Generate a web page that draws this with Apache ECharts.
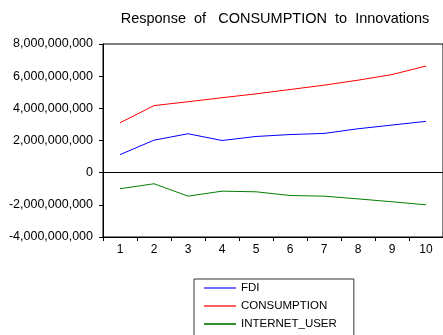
<!DOCTYPE html>
<html>
<head>
<meta charset="utf-8">
<script src="https://cdn.jsdelivr.net/npm/echarts@6/dist/echarts.min.js"></script>
<style>html,body{margin:0;padding:0;background:#fff;}#c{width:443px;height:335px;}</style>
</head>
<body>
<div id="c"></div>
<script>
var categories = ['1','2','3','4','5','6','7','8','9','10'];
var fdi = [1.12e9, 2.02e9, 2.42e9, 2.0e9, 2.25e9, 2.37e9, 2.44e9, 2.73e9, 2.96e9, 3.19e9];
var consumption = [3.1e9, 4.17e9, 4.41e9, 4.66e9, 4.9e9, 5.17e9, 5.44e9, 5.75e9, 6.1e9, 6.63e9];
var internetUser = [-1.0e9, -0.69e9, -1.46e9, -1.15e9, -1.19e9, -1.42e9, -1.46e9, -1.63e9, -1.81e9, -2.0e9];
var titleText = 'Response  of   CONSUMPTION  to  Innovations';

var chart = echarts.init(document.getElementById('c'), null, {renderer: 'canvas'});
var font = 'Liberation Sans, Arial, sans-serif';
function fmt(v) {
  var s = Math.abs(Math.round(v)).toString().replace(/\B(?=(\d{3})+(?!\d))/g, ',');
  return (v < 0 ? '-' : '') + s;
}
function mk(name, data, color, withZero) {
  var s = {
    name: name, type: 'line', data: data, symbol: 'none', silent: true,
    lineStyle: {color: color, width: 1}, itemStyle: {color: color}
  };
  if (withZero) {
    s.markLine = {
      silent: true, symbol: 'none', label: {show: false},
      lineStyle: {color: '#000', width: 1, type: 'solid'},
      data: [{yAxis: 0}]
    };
  }
  return s;
}
chart.setOption({
  animation: false,
  backgroundColor: '#fff',
  title: {
    text: titleText, left: 270, textAlign: 'center', top: 6,
    textStyle: {fontFamily: font, fontSize: 14.5, fontWeight: 'normal', color: '#000'}
  },
  grid: {left: 103, top: 44, right: -1, bottom: 98, show: true, borderColor: '#000', borderWidth: 1, backgroundColor: 'transparent'},
  xAxis: {
    type: 'category', data: categories, boundaryGap: true,
    axisLine: {onZero: false, lineStyle: {color: '#000', width: 1}},
    axisTick: {show: true, inside: false, length: 4, lineStyle: {color: '#000'}},
    axisLabel: {fontFamily: font, fontSize: 12, color: '#000', margin: 7},
    splitLine: {show: false}
  },
  yAxis: {
    type: 'value', min: -4e9, max: 8e9, interval: 2e9,
    axisLine: {show: true, lineStyle: {color: '#000', width: 1}},
    axisTick: {show: true, inside: false, length: 4, lineStyle: {color: '#000'}},
    axisLabel: {fontFamily: font, fontSize: 12.5, color: '#000', margin: 10, formatter: fmt},
    splitLine: {show: false}
  },
  legend: {
    orient: 'vertical', left: 194, top: 279, height: 120,
    icon: 'rect', itemWidth: 32, itemHeight: 2, itemGap: 6,
    padding: [3, 17, 30, 10],
    borderColor: '#333', borderWidth: 1,
    textStyle: {fontFamily: font, fontSize: 11.5, color: '#000'},
    data: [
      {name: 'FDI', itemStyle: {color: '#7070ff'}},
      {name: 'CONSUMPTION', itemStyle: {color: '#ff6060'}},
      {name: 'INTERNET_USER', itemStyle: {color: '#309030'}}
    ]
  },
  series: [
    mk('FDI', fdi, '#0000ff', true),
    mk('CONSUMPTION', consumption, '#ff0000', false),
    mk('INTERNET_USER', internetUser, '#008000', false)
  ]
});
</script>
</body>
</html>
